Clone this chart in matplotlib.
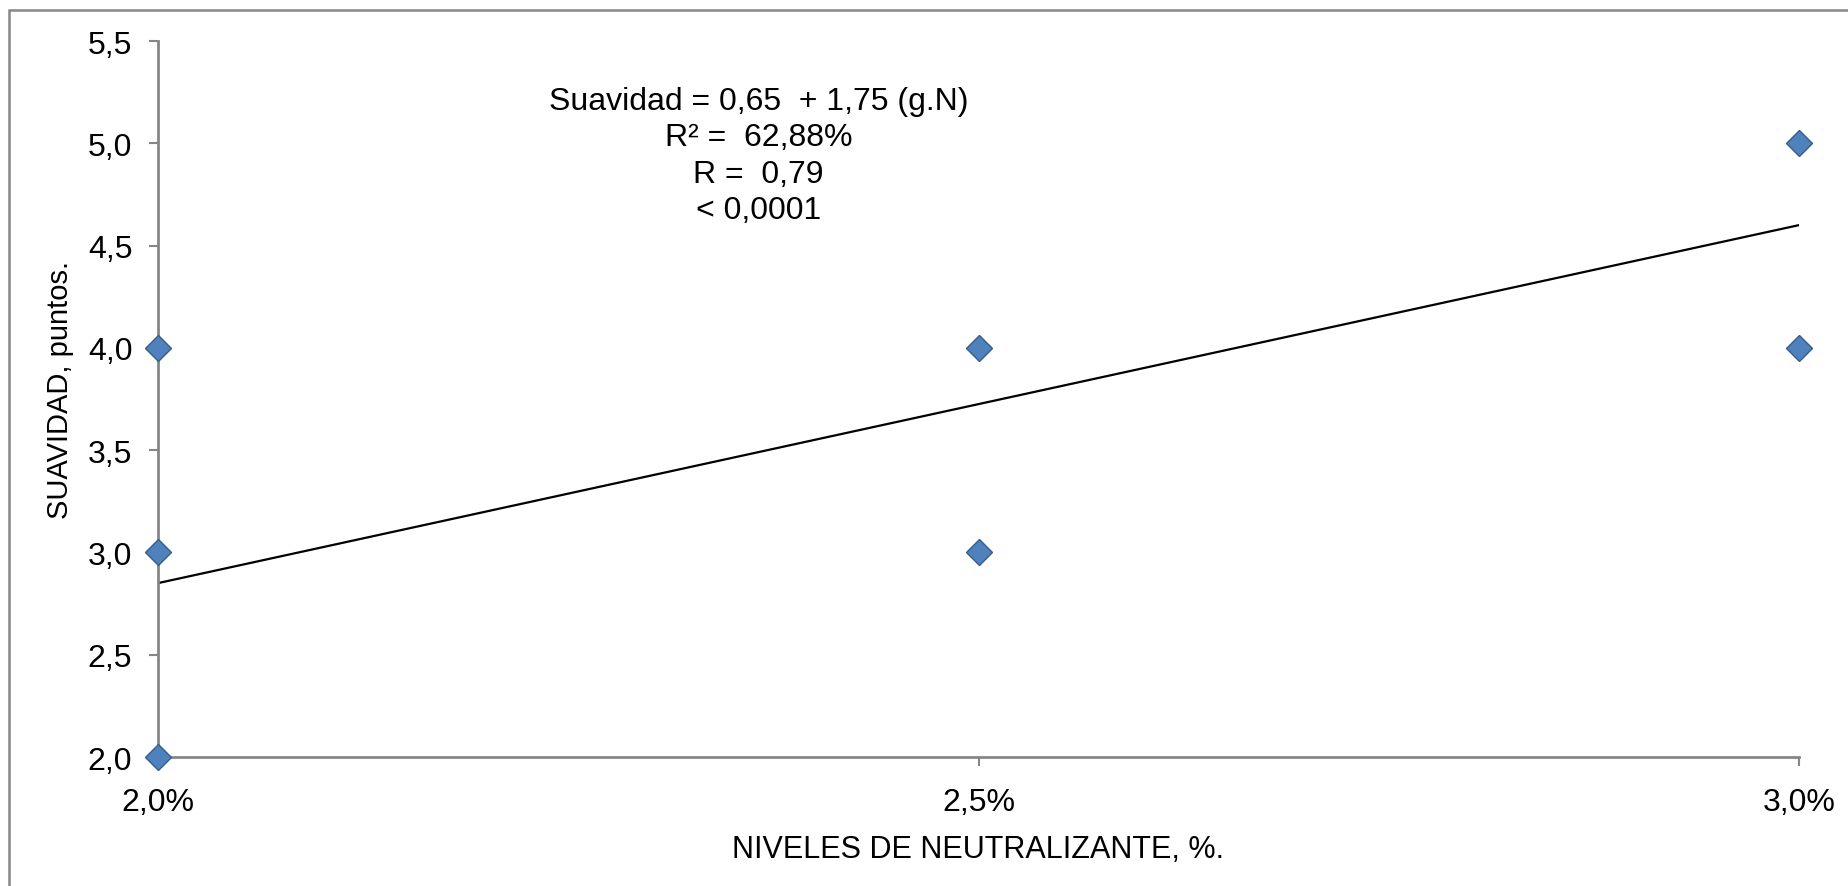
"""
Suavidad vs niveles de neutralizante - dispersion con recta de regresion.
"""
import matplotlib.pyplot as plt
from matplotlib.patches import Rectangle

plt.rcParams['font.family'] = ['Liberation Sans', 'DejaVu Sans']

# Observaciones (nivel de neutralizante, %; suavidad, puntos)
nivel = [2.0, 2.0, 2.0, 2.5, 2.5, 3.0, 3.0]
suavidad = [4.0, 3.0, 2.0, 4.0, 3.0, 5.0, 4.0]

# Recta de tendencia, extremos
trend_x = [2.0, 3.0]
trend_y = [2.85, 4.60]

x_ticks = [2.0, 2.5, 3.0]
x_labels = ['2,0%', '2,5%', '3,0%']
y_ticks = [2.0, 2.5, 3.0, 3.5, 4.0, 4.5, 5.0, 5.5]
y_labels = ['2,0', '2,5', '3,0', '3,5', '4,0', '4,5', '5,0', '5,5']

eq_text = ('Suavidad = 0,65  + 1,75 (g.N)\n'
           'R² =  62,88%\n'
           'R =  0,79\n'
           '< 0,0001')

W, H = 1848, 887
fig = plt.figure(figsize=(W / 100, H / 100), dpi=100)
ax = fig.add_axes([158 / W, 1 - 758 / H, (1799 - 158) / W, (758 - 42) / H])

grey = '#868686'

# recta de regresion
ax.plot(trend_x, trend_y, color='black', linewidth=1.6, zorder=2)

# puntos
ax.plot(nivel, suavidad, linestyle='none', marker='D', markersize=13.5,
        markerfacecolor='#4F81BD', markeredgecolor='#385D8A',
        markeredgewidth=1.0, clip_on=False, zorder=3)

ax.set_xlim(2.0, 3.0)
ax.set_ylim(2.0, 5.5)
ax.set_xticks(x_ticks)
ax.set_xticklabels(x_labels)
ax.set_yticks(y_ticks)
ax.set_yticklabels(y_labels)

for side in ['top', 'right']:
    ax.spines[side].set_visible(False)
for side in ['left', 'bottom']:
    ax.spines[side].set_color(grey)
    ax.spines[side].set_linewidth(2)

ax.tick_params(axis='both', direction='out', length=6.5, width=1.5,
               color=grey, labelsize=23, labelcolor='black')
ax.tick_params(axis='x', pad=15)
ax.tick_params(axis='y', pad=12)

ax.set_xlabel('NIVELES DE NEUTRALIZANTE, %.', fontsize=22)
ax.set_ylabel('SUAVIDAD, puntos.', fontsize=21)
ax.xaxis.set_label_coords(0.5, -0.107)
ax.yaxis.set_label_coords(-0.051, 0.514)

# ecuacion de regresion
ax.text(2.366, 5.28, eq_text, ha='center', va='top', fontsize=23,
        linespacing=1.28)

# borde exterior del grafico
fig.patches.append(Rectangle((9 / W, -0.05), 1.1, 1 - 11 / H + 0.05,
                             transform=fig.transFigure, fill=False,
                             edgecolor=grey, linewidth=1.8))

plt.savefig('out.png', dpi=100)
